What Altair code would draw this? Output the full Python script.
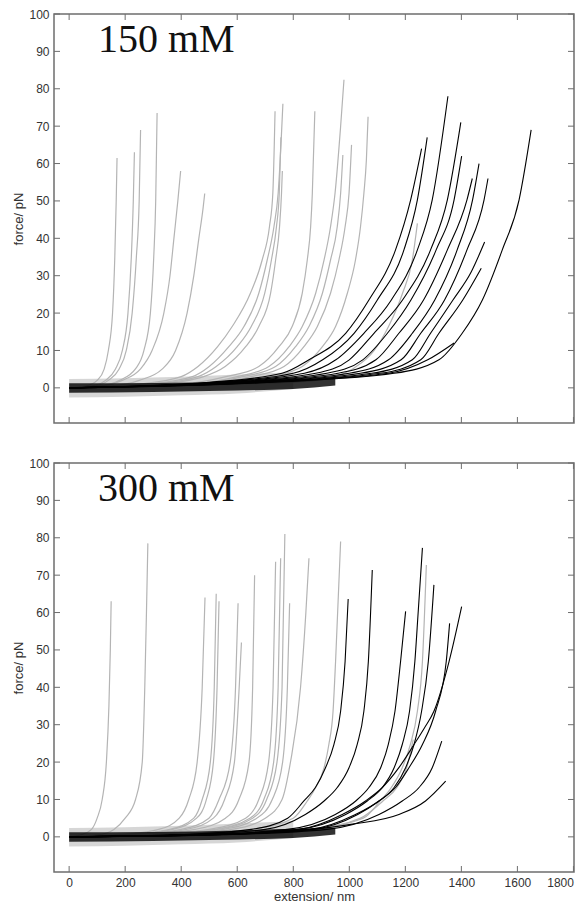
import altair as alt
import pandas as pd

# ---------------- data ----------------
# each curve: (extension nm list, force pN list)
gray_150 = [
    ([0, 60, 100, 125, 140, 155, 163, 168, 171], [0, 0.5, 2, 5, 10, 20, 35, 50, 61.5]),
    ([0, 80, 130, 165, 190, 210, 222, 229, 233], [0, 0.5, 2, 5, 10, 20, 35, 50, 63]),
    ([0, 90, 140, 178, 204, 225, 240, 250, 255], [0, 0.5, 2, 5, 10, 20, 35, 50, 69]),
    ([0, 110, 180, 236, 267, 290, 302, 309, 314], [0, 0.5, 2, 5, 10, 20, 35, 50, 73.5]),
    ([0, 120, 190, 254, 296, 338, 360, 374, 388, 398], [0, 0.5, 2, 5, 10, 20, 30, 40, 50, 58]),
    ([0, 150, 250, 332, 380, 421, 445, 463, 478, 484], [0, 0.5, 2, 5, 10, 20, 30, 40, 48, 52]),
    ([0, 250, 400, 460, 530, 582, 647, 689, 715, 727, 735], [0, 1, 3, 5.7, 11, 16.4, 25.3, 34.2, 43.1, 52, 74]),
    ([0, 280, 440, 500, 570, 624, 677, 707, 731, 746, 763], [0, 1, 3, 5.7, 11, 16.4, 25.3, 34.2, 43.1, 52, 76]),
    ([0, 320, 480, 557, 630, 677, 719, 737, 751, 758, 761], [0, 1, 3, 5.7, 11, 16.4, 25.3, 34.2, 43.1, 52, 58]),
    ([0, 300, 460, 525, 600, 650, 698, 722, 740, 750, 756], [0, 1, 3, 5.7, 11, 16.4, 25.3, 34.2, 43.1, 52, 67]),
    ([0, 400, 560, 677, 749, 796, 832, 850, 862, 868, 877], [0, 1, 3, 5.7, 11, 16.4, 25.3, 34.2, 43.1, 52, 74]),
    ([0, 430, 600, 713, 785, 832, 880, 910, 933, 949, 969, 981], [0, 1, 3, 5.7, 11, 16.4, 25.3, 34.2, 43.1, 52, 69.9, 82.4]),
    ([0, 450, 620, 737, 808, 856, 904, 933, 957, 969, 977], [0, 1, 3, 5.7, 11, 16.4, 25.3, 34.2, 43.1, 52, 62.3]),
    ([0, 470, 650, 767, 838, 886, 933, 963, 985, 999, 1008], [0, 1, 3, 5.7, 11, 16.4, 25.3, 34.2, 43.1, 52, 65]),
    ([0, 520, 720, 832, 904, 951, 993, 1022, 1040, 1052, 1061, 1067], [0, 1, 3, 5.7, 11, 16.4, 25.3, 34.2, 43.1, 52, 61, 72.5]),
    ([0, 600, 880, 1010, 1089, 1140, 1190, 1225, 1243], [0, 1, 2, 5, 10, 16.4, 25.3, 34.2, 44]),
]
black_150 = [
    ([0, 500, 760, 856, 987, 1070, 1165, 1219, 1258], [0, 1.5, 3.9, 7.5, 14.6, 23.5, 36.9, 50.3, 64]),
    ([0, 520, 800, 905, 1017, 1100, 1195, 1243, 1278], [0, 1.5, 3.9, 7.5, 14.6, 23.5, 36.9, 50.3, 67]),
    ([0, 540, 840, 952, 1052, 1150, 1243, 1296, 1352], [0, 1.5, 3.9, 7.5, 14.6, 23.5, 36.9, 50.3, 78]),
    ([0, 560, 880, 1000, 1088, 1190, 1290, 1350, 1398], [0, 1.5, 3.9, 7.5, 14.6, 23.5, 36.9, 50.3, 71]),
    ([0, 580, 920, 1048, 1136, 1220, 1310, 1374, 1401], [0, 1.5, 3.9, 7.5, 14.6, 23.5, 36.9, 50.3, 62]),
    ([0, 600, 960, 1095, 1177, 1265, 1350, 1420, 1439], [0, 1.5, 3.9, 7.5, 14.6, 23.5, 36.9, 50.3, 56]),
    ([0, 620, 1000, 1140, 1225, 1305, 1385, 1440, 1463], [0, 1.5, 3.9, 7.5, 14.6, 23.5, 36.9, 50.3, 60]),
    ([0, 640, 1040, 1185, 1255, 1340, 1420, 1481, 1495], [0, 1.5, 3.9, 7.5, 14.6, 23.5, 36.9, 50.3, 56]),
    ([0, 660, 1080, 1225, 1290, 1370, 1435, 1483], [0, 1.5, 3.9, 7.5, 14.6, 23.5, 31, 39]),
    ([0, 680, 1110, 1255, 1320, 1405, 1471], [0, 1.5, 3.9, 7.5, 14.6, 23.5, 32]),
    ([0, 700, 1140, 1280, 1374], [0, 1.5, 3.9, 7.5, 12]),
    ([0, 720, 1160, 1320, 1403, 1475, 1546, 1606, 1649], [0, 1.5, 3.9, 7.5, 14.6, 23.5, 36.9, 50.3, 69]),
]
gray_300 = [
    ([0, 40, 80, 100, 118, 133, 142, 147, 150], [0, 0.5, 2, 5, 10, 20, 35, 50, 63]),
    ([0, 100, 160, 200, 237, 261, 270, 276, 281], [0, 0.5, 2, 5, 10, 20, 40, 60, 78.5]),
    ([0, 200, 320, 393, 427, 457, 475, 485], [0, 0.7, 2, 5, 10, 20, 40, 64]),
    ([0, 220, 360, 445, 475, 504, 518, 525], [0, 0.7, 2, 5, 10, 20, 40, 65]),
    ([0, 230, 370, 455, 490, 515, 528, 535], [0, 0.7, 2, 5, 10, 20, 40, 63]),
    ([0, 250, 400, 499, 535, 575, 594, 603], [0, 0.7, 2, 5, 10, 20, 40, 62.5]),
    ([0, 260, 420, 515, 555, 590, 607, 615], [0, 0.7, 2, 5, 10, 20, 40, 52]),
    ([0, 280, 450, 558, 606, 642, 655, 662], [0, 0.7, 2, 5, 10, 20, 40, 70]),
    ([0, 300, 500, 630, 677, 712, 728, 737], [0, 0.7, 2, 5, 10, 20, 40, 73.6]),
    ([0, 310, 520, 645, 695, 730, 746, 755], [0, 0.7, 2, 5, 10, 20, 40, 74.5]),
    ([0, 320, 530, 655, 705, 742, 760, 770], [0, 0.7, 2, 5, 10, 20, 40, 81]),
    ([0, 330, 550, 670, 725, 762, 779, 787], [0, 0.7, 2, 5, 10, 20, 40, 62.5]),
    ([0, 350, 580, 700, 760, 790, 826, 845, 856], [0, 0.7, 2, 5, 10, 20, 40, 60, 74.5]),
    ([0, 400, 650, 800, 850, 880, 910, 927, 942, 951, 969], [0, 0.7, 2, 5, 9.6, 13.2, 18.5, 24.7, 33.6, 46.9, 79]),
    ([0, 520, 850, 1050, 1110, 1150, 1189, 1218, 1243, 1261, 1275], [0, 0.7, 2, 5, 9.6, 13.2, 18.5, 24.7, 33.6, 46.9, 72.7]),
    ([0, 520, 860, 1040, 1120, 1170, 1205, 1228], [0, 0.7, 2, 5, 9.6, 13.2, 18.5, 26]),
]
black_300 = [
    ([0, 400, 650, 780, 838, 879, 915, 945, 969, 985, 996], [0, 0.6, 2, 5, 9.6, 13.2, 18.5, 24.7, 33.6, 46.9, 63.6]),
    ([0, 420, 700, 843, 910, 957, 999, 1028, 1052, 1068, 1082], [0, 0.6, 2, 6, 9.6, 13.2, 18.5, 24.7, 33.6, 46.9, 71.4]),
    ([0, 480, 780, 950, 1023, 1070, 1112, 1139, 1163, 1183, 1201], [0, 0.6, 2, 6, 9.6, 13.2, 18.5, 24.7, 33.6, 46.9, 60.3]),
    ([0, 500, 820, 987, 1064, 1118, 1160, 1189, 1215, 1234, 1246, 1261], [0, 0.6, 2, 6, 9.6, 13.2, 18.5, 24.7, 33.6, 46.9, 60.3, 77.3]),
    ([0, 520, 860, 1022, 1106, 1160, 1201, 1231, 1258, 1282, 1302], [0, 0.6, 2, 6, 9.6, 13.2, 18.5, 24.7, 33.6, 46.9, 67.4]),
    ([0, 530, 870, 1030, 1106, 1165, 1213, 1261, 1308, 1346, 1358], [0, 0.6, 2, 6, 9.6, 13.2, 18.5, 24.7, 33.6, 46.9, 57.1]),
    ([0, 500, 820, 975, 1058, 1118, 1177, 1231, 1267, 1302, 1356, 1401], [0, 0.6, 2, 6, 9.6, 13.2, 18.5, 24.7, 29, 33.6, 46.9, 61.6]),
    ([0, 560, 920, 1106, 1189, 1249, 1296, 1330], [0, 0.6, 2, 6, 9.6, 13.2, 18.5, 25.6]),
    ([0, 600, 1011, 1177, 1272, 1344], [0, 0.8, 3.4, 6, 9.6, 14.9]),
]

# baseline noise envelopes
gray_band_x = [0, 200, 400, 600, 800]
gray_band_lo = [-2.6, -2.4, -2.0, -1.5, -0.3]
gray_band_hi = [2.4, 2.6, 3.0, 3.6, 4.2]
black_band_x = [0, 300, 600, 800, 950]
black_band_lo = [-1.3, -1.1, -0.7, -0.3, 0.6]
black_band_hi = [1.2, 1.3, 1.7, 2.2, 2.4]

y_ticks = list(range(0, 101, 10))
x_ticks = list(range(0, 1801, 200))
labels = ["150 mM", "300 mM"]

# ---------------- chart ----------------
W, H = 520, 409
XDOM = [-54, 1802]
YDOM = [-9.4, 100]
FRAME = "#6e6e6e"
GRAY = "#b4b4b4"
TXT = "#333333"


def curves_df(curves, kind):
    rows = []
    for i, (xs, fs) in enumerate(curves):
        for j, (x, f) in enumerate(zip(xs, fs)):
            rows.append({"curve": f"{kind}{i}", "kind": kind, "ext": x, "force": f, "idx": j})
    return pd.DataFrame(rows)


def panel(gray, black, label, show_x):
    xscale = alt.Scale(domain=XDOM, nice=False, zero=False)
    yscale = alt.Scale(domain=YDOM, nice=False, zero=False)
    if show_x:
        xaxis = alt.Axis(values=x_ticks, ticks=False, domain=False, grid=False, format="d",
                         title="extension/ nm", labelPadding=5, titlePadding=2)
    else:
        xaxis = None
    yaxis = alt.Axis(values=y_ticks, ticks=False, domain=False, grid=False, format="d",
                     title="force/ pN", labelPadding=5, titlePadding=3)

    gband = alt.Chart(pd.DataFrame({"ext": gray_band_x, "lo": gray_band_lo, "hi": gray_band_hi})).mark_area(
        color=GRAY, opacity=0.55, interpolate="monotone").encode(
        x=alt.X("ext:Q", scale=xscale, axis=xaxis),
        y=alt.Y("lo:Q", scale=yscale, axis=yaxis),
        y2="hi:Q")
    gl = alt.Chart(curves_df(gray, "g")).mark_line(color=GRAY, strokeWidth=1.2, interpolate="monotone").encode(
        x=alt.X("ext:Q", scale=xscale, axis=xaxis),
        y=alt.Y("force:Q", scale=yscale, axis=yaxis),
        detail="curve:N", order="idx:Q")
    bband = alt.Chart(pd.DataFrame({"ext": black_band_x, "lo": black_band_lo, "hi": black_band_hi})).mark_area(
        color="#000000", opacity=0.8, interpolate="monotone").encode(
        x=alt.X("ext:Q", scale=xscale, axis=xaxis),
        y=alt.Y("lo:Q", scale=yscale, axis=yaxis),
        y2="hi:Q")
    bl = alt.Chart(curves_df(black, "b")).mark_line(color="#000000", strokeWidth=1.1, interpolate="monotone").encode(
        x=alt.X("ext:Q", scale=xscale, axis=xaxis),
        y=alt.Y("force:Q", scale=yscale, axis=yaxis),
        detail="curve:N", order="idx:Q")

    ydf = pd.DataFrame({"v": y_ticks})
    xdf = pd.DataFrame({"v": x_ticks})
    tl = alt.Chart(ydf).mark_rule(color=FRAME, strokeWidth=1).encode(
        y=alt.Y("v:Q", scale=yscale, axis=yaxis), x=alt.value(0), x2=alt.value(6))
    tr = alt.Chart(ydf).mark_rule(color=FRAME, strokeWidth=1).encode(
        y=alt.Y("v:Q", scale=yscale, axis=yaxis), x=alt.value(W - 6), x2=alt.value(W))
    tt = alt.Chart(xdf).mark_rule(color=FRAME, strokeWidth=1).encode(
        x=alt.X("v:Q", scale=xscale, axis=xaxis), y=alt.value(0), y2=alt.value(6))
    tb = alt.Chart(xdf).mark_rule(color=FRAME, strokeWidth=1).encode(
        x=alt.X("v:Q", scale=xscale, axis=xaxis), y=alt.value(H - 6), y2=alt.value(H))

    txt = alt.Chart(pd.DataFrame({"t": [label]})).mark_text(
        font="Liberation Serif", fontSize=40, align="left", baseline="alphabetic", color="#111111").encode(
        text="t:N", x=alt.value(44), y=alt.value(38))

    return alt.layer(gband, gl, bband, bl, tl, tr, tt, tb, txt).properties(width=W, height=H)


top = panel(gray_150, black_150, labels[0], False)
bottom = panel(gray_300, black_300, labels[1], True)

chart = alt.vconcat(top, bottom, spacing=31).properties(
    padding={"left": 12, "top": 7, "right": 2, "bottom": 2}
).configure_view(stroke=FRAME, strokeWidth=1.5).configure_axis(
    labelFont="Liberation Sans", labelFontSize=12, labelColor=TXT,
    titleFont="Liberation Sans", titleFontSize=13, titleFontWeight="normal", titleColor=TXT,
)

chart.save("out.html", embed_options={"renderer": "svg", "actions": False})
